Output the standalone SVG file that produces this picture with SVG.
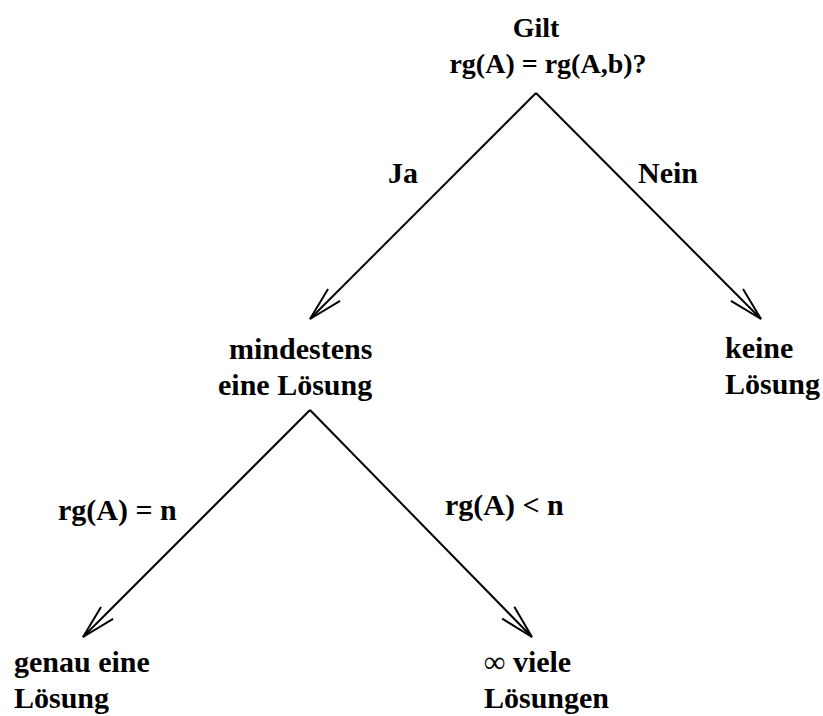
<svg xmlns="http://www.w3.org/2000/svg" width="823" height="716" viewBox="0 0 823 716">
<style>
text{font-family:"Liberation Serif","Times New Roman",serif;font-weight:bold;font-size:30px;fill:#000}
.top{font-size:28px;text-anchor:middle}
.ln{stroke:#000;stroke-width:2;fill:none}
</style>
<defs>
<marker id="arr" markerUnits="userSpaceOnUse" viewBox="-36 -10 38 20" refX="0" refY="0" markerWidth="38" markerHeight="20" orient="auto">
<path d="M-34,-8.5 L0,0 L-34,8.5" fill="none" stroke="#000" stroke-width="2"/>
</marker>
</defs>
<rect width="823" height="716" fill="#fff"/>
<g id="connectors">
<path class="ln" d="M536,93 L310,319" marker-end="url(#arr)"/>
<path class="ln" d="M536,93 L761,319" marker-end="url(#arr)"/>
<path class="ln" d="M310,410 L83,637" marker-end="url(#arr)"/>
<path class="ln" d="M310,410 L532,637" marker-end="url(#arr)"/>
<text x="388" y="183">Ja</text>
<text x="638" y="183">Nein</text>
<text x="58" y="520">rg(A) = n</text>
<text x="445" y="515">rg(A) &lt; n</text>
</g>
<g id="root">
<text class="top" x="536" y="37">Gilt</text>
<text class="top" x="548" y="73">rg(A) = rg(A,b)?</text>
</g>
<g id="mindestens">
<text x="229" y="359">mindestens</text>
<text x="218" y="395">eine Lösung</text>
</g>
<g id="keine">
<text x="725" y="358">keine</text>
<text x="725" y="394">Lösung</text>
</g>
<g id="genau">
<text x="14" y="672">genau eine</text>
<text x="14" y="708">Lösung</text>
</g>
<g id="viele">
<text x="484" y="672">∞ viele</text>
<text x="484" y="708">Lösungen</text>
</g>
</svg>
